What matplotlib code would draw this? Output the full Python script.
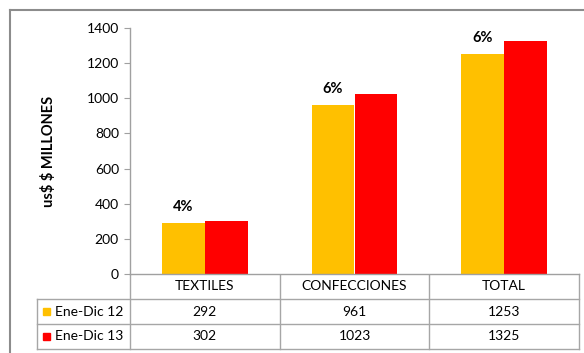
import matplotlib.pyplot as plt
from matplotlib.lines import Line2D
from matplotlib.patches import Rectangle
import numpy as np

plt.rcParams['font.family'] = ['Lato', 'DejaVu Sans']
plt.rcParams['text.parse_math'] = False

categorias = ['TEXTILES', 'CONFECCIONES', 'TOTAL']
series = ['Ene-Dic 12', 'Ene-Dic 13']
valores_12 = [292, 961, 1253]
valores_13 = [302, 1023, 1325]
variacion = ['4%', '6%', '6%']
colores = ['#FFC000', '#FF0000']

W, H = 584, 353
fig = plt.figure(figsize=(W / 100, H / 100), dpi=100)

# plot area in pixel terms
x0, x1 = 130, 579
y_top, y_zero = 28, 274
ax = fig.add_axes([x0 / W, 1 - y_zero / H, (x1 - x0) / W, (y_zero - y_top) / H])

x = np.arange(len(categorias))
ancho = 0.287
ax.bar(x - ancho / 2, valores_12, ancho, color=colores[0], zorder=2)
ax.bar(x + ancho / 2, valores_13, ancho, color=colores[1], zorder=2)

for xi, v, txt in zip(x, valores_12, variacion):
    ax.annotate(txt, (xi - ancho / 2, v), xytext=(0, 11.5), textcoords='offset points',
                ha='center', va='center', fontsize=10.5, fontweight='bold')

ax.set_xlim(-0.5, len(categorias) - 0.5)
ax.set_ylim(0, 1400)
ax.set_yticks(np.arange(0, 1401, 200))
ax.set_xticks([])
ax.tick_params(axis='y', labelsize=10, length=4, width=0.8, color='#a0a0a0', pad=4)
for s in ['top', 'right']:
    ax.spines[s].set_visible(False)
for s in ['left', 'bottom']:
    ax.spines[s].set_color('#a0a0a0')
    ax.spines[s].set_linewidth(1)
ax.set_ylabel('us$ $ MILLONES', fontsize=10.5, fontweight='bold', labelpad=22)

# data table under the chart, in pixel coordinates
tab = fig.add_axes([0, 0, 1, 1], zorder=-1)
tab.set_xlim(0, W)
tab.set_ylim(H, 0)
tab.axis('off')

gris = '#a6a6a6'
filas = [274, 299, 324, 349]
cols = [x0 + (x1 - x0) * i / len(categorias) for i in range(len(categorias) + 1)]
tab.plot([37, x1], [filas[1]] * 2, color=gris, lw=1)
tab.plot([37, x1], [filas[2]] * 2, color=gris, lw=1)
tab.plot([37, x1], [filas[3]] * 2, color=gris, lw=1)
tab.plot([37, 37], [filas[1], filas[3]], color=gris, lw=1)
for c in cols:
    tab.plot([c, c], [filas[0], filas[3]], color=gris, lw=1)

for i, cat in enumerate(categorias):
    cx = (cols[i] + cols[i + 1]) / 2
    tab.text(cx, (filas[0] + filas[1]) / 2, cat, ha='center', va='center', fontsize=10)
    tab.text(cx, (filas[1] + filas[2]) / 2, str(valores_12[i]), ha='center', va='center', fontsize=10)
    tab.text(cx, (filas[2] + filas[3]) / 2, str(valores_13[i]), ha='center', va='center', fontsize=10)

for j, (nombre, col) in enumerate(zip(series, colores)):
    cy = (filas[j + 1] + filas[j + 2]) / 2
    tab.add_patch(Rectangle((43, cy - 3.5), 7, 7, color=col))
    tab.text(55, cy, nombre, ha='left', va='center', fontsize=10)

# outer frame
fig.add_artist(Line2D([10 / W, 10 / W], [0, 1 - 10 / H], color='#8c8c8c', lw=1.5))
fig.add_artist(Line2D([10 / W, 1], [1 - 10 / H, 1 - 10 / H], color='#8c8c8c', lw=1.5))

fig.savefig('out.png', dpi=100)
